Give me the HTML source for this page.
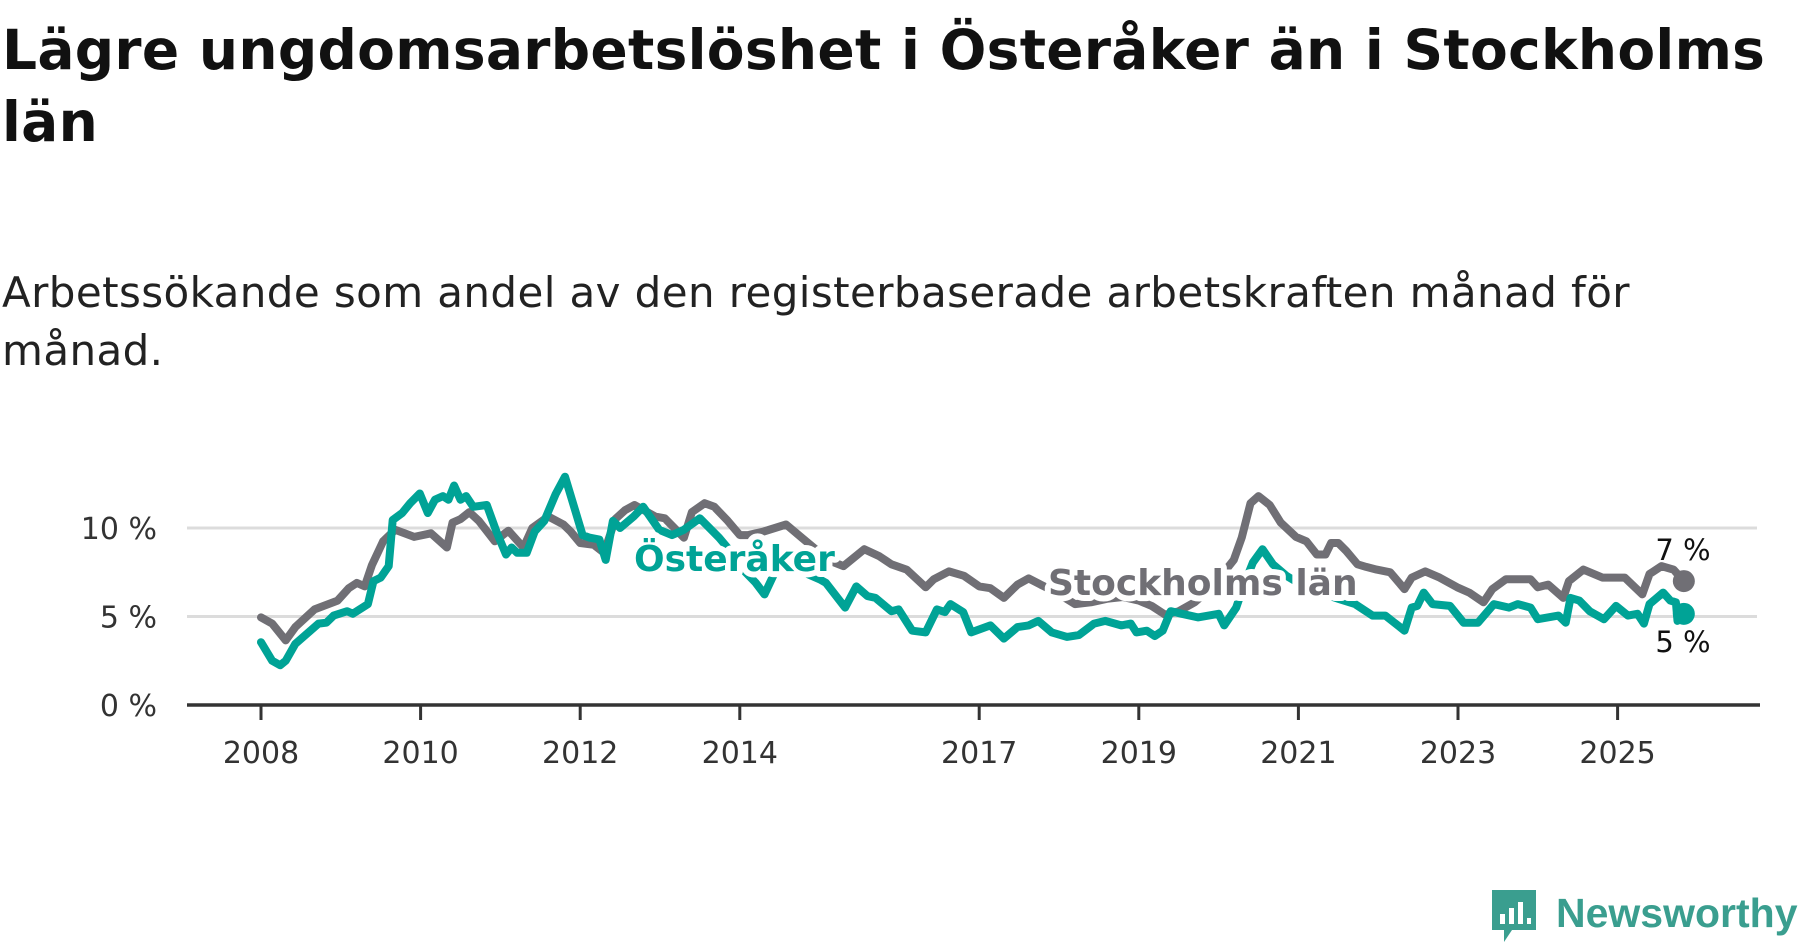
<!DOCTYPE html>
<html><head><meta charset="utf-8">
<style>
body{margin:0;background:#fff;width:1800px;height:948px;overflow:hidden;font-family:"DejaVu Sans",sans-serif;}
.t{position:absolute;left:2px;white-space:nowrap;color:#111}
</style></head><body>
<div class="t" style="top:14px;font-size:55px;font-weight:bold;line-height:72px;letter-spacing:0.3px">Lägre ungdomsarbetslöshet i Österåker än i Stockholms<br>län</div>
<div class="t" style="top:264px;font-size:42px;line-height:58px;color:#222;letter-spacing:0.4px">Arbetssökande som andel av den registerbaserade arbetskraften månad för<br>månad.</div>
<svg id="chart" width="1800" height="948" style="position:absolute;left:0;top:0" xmlns="http://www.w3.org/2000/svg"></svg>
<div style="position:absolute;left:1490px;top:888px;width:310px;height:60px;">
<svg width="50" height="58" style="position:absolute;left:0;top:0"><path d="M2 2h44v40H22l-8 12v-12H2z" fill="#3a9e8f"/><rect x="10" y="26" width="5" height="10" fill="#fff"/><rect x="19" y="20" width="5" height="16" fill="#fff"/><rect x="28" y="14" width="5" height="22" fill="#fff"/><rect x="37" y="30" width="4" height="6" fill="#fff"/></svg>
<span style="position:absolute;left:66px;top:2px;font-size:41px;font-weight:bold;color:#3a9e8f;font-family:'Liberation Sans',sans-serif">Newsworthy</span></div>
<script>
const yTicks=[0,5,10];
const yTickLabels=["0 %","5 %","10 %"];
const xTicks=[2008,2010,2012,2014,2017,2019,2021,2023,2025];
const stockYears=[2008.0,2008.14,2008.31,2008.43,2008.67,2008.96,2009.1,2009.2,2009.3,2009.39,2009.53,2009.68,2009.92,2010.13,2010.33,2010.4,2010.5,2010.61,2010.73,2010.93,2011.1,2011.29,2011.4,2011.6,2011.79,2011.88,2012.0,2012.17,2012.3,2012.44,2012.56,2012.68,2012.8,2012.94,2013.06,2013.3,2013.4,2013.56,2013.68,2013.85,2014.0,2014.1,2014.3,2014.58,2014.79,2014.95,2015.1,2015.3,2015.56,2015.75,2015.9,2016.09,2016.33,2016.43,2016.62,2016.81,2017.0,2017.14,2017.31,2017.48,2017.62,2017.77,2017.95,2018.2,2018.4,2018.6,2018.8,2019.0,2019.16,2019.33,2019.5,2019.7,2019.9,2020.05,2020.19,2020.29,2020.4,2020.5,2020.64,2020.78,2020.97,2021.1,2021.23,2021.34,2021.41,2021.5,2021.6,2021.74,2021.85,2021.98,2022.15,2022.33,2022.42,2022.59,2022.77,2022.99,2023.14,2023.32,2023.43,2023.6,2023.91,2024.0,2024.13,2024.32,2024.39,2024.57,2024.81,2025.09,2025.31,2025.4,2025.55,2025.7,2025.83];
const stockValues=[4.95,4.6,3.65,4.4,5.4,5.9,6.6,6.9,6.7,7.9,9.25,9.9,9.5,9.7,8.9,10.3,10.5,10.9,10.4,9.25,9.85,8.9,10.0,10.65,10.2,9.8,9.15,9.05,8.6,10.5,11.0,11.3,11.0,10.65,10.55,9.45,10.9,11.4,11.2,10.4,9.6,9.6,9.8,10.2,9.4,8.8,8.2,7.85,8.8,8.4,7.95,7.65,6.65,7.1,7.55,7.3,6.7,6.6,6.05,6.8,7.15,6.8,6.4,5.7,5.8,6.0,6.1,5.9,5.6,5.1,5.3,5.8,6.6,7.4,8.2,9.45,11.4,11.8,11.3,10.3,9.5,9.25,8.5,8.5,9.15,9.15,8.7,7.95,7.8,7.65,7.5,6.55,7.2,7.55,7.2,6.65,6.35,5.8,6.55,7.1,7.1,6.65,6.8,6.05,7.0,7.65,7.2,7.2,6.25,7.4,7.85,7.65,7.0];
const osterYears=[2008.0,2008.14,2008.24,2008.31,2008.43,2008.72,2008.82,2008.91,2009.08,2009.15,2009.34,2009.41,2009.5,2009.6,2009.65,2009.77,2009.87,2009.99,2010.09,2010.18,2010.28,2010.35,2010.42,2010.5,2010.57,2010.66,2010.83,2010.95,2011.07,2011.14,2011.21,2011.33,2011.43,2011.55,2011.69,2011.81,2011.93,2012.03,2012.12,2012.24,2012.32,2012.41,2012.5,2012.67,2012.79,2012.99,2013.15,2013.3,2013.5,2013.74,2013.9,2014.05,2014.2,2014.31,2014.45,2014.6,2014.8,2015.0,2015.08,2015.32,2015.46,2015.6,2015.7,2015.9,2015.99,2016.16,2016.33,2016.47,2016.57,2016.64,2016.8,2016.9,2017.14,2017.31,2017.48,2017.62,2017.74,2017.91,2018.1,2018.25,2018.44,2018.58,2018.78,2018.9,2018.97,2019.1,2019.2,2019.3,2019.4,2019.54,2019.74,2020.0,2020.07,2020.22,2020.32,2020.43,2020.55,2020.68,2020.85,2021.0,2021.15,2021.3,2021.5,2021.71,2021.93,2022.09,2022.33,2022.42,2022.49,2022.57,2022.68,2022.9,2023.07,2023.25,2023.45,2023.64,2023.75,2023.91,2024.0,2024.26,2024.35,2024.41,2024.52,2024.65,2024.83,2024.98,2025.13,2025.25,2025.33,2025.4,2025.57,2025.66,2025.73,2025.75,2025.83];
const osterValues=[3.55,2.5,2.25,2.5,3.45,4.6,4.65,5.05,5.3,5.15,5.7,7.0,7.2,7.85,10.45,10.85,11.4,11.95,10.85,11.6,11.8,11.6,12.4,11.6,11.8,11.2,11.3,9.8,8.5,8.9,8.6,8.6,9.8,10.4,11.9,12.9,11.1,9.6,9.45,9.35,8.2,10.4,10.0,10.65,11.2,9.9,9.6,9.9,10.55,9.45,8.6,7.6,6.9,6.25,7.6,8.0,7.5,7.1,6.9,5.5,6.7,6.15,6.05,5.3,5.4,4.2,4.1,5.4,5.25,5.7,5.25,4.1,4.5,3.75,4.4,4.5,4.75,4.1,3.85,3.95,4.6,4.75,4.5,4.6,4.1,4.2,3.9,4.2,5.3,5.15,4.95,5.15,4.5,5.5,6.8,8.05,8.8,7.95,7.3,6.9,6.6,6.3,6.0,5.7,5.05,5.05,4.2,5.5,5.6,6.35,5.7,5.6,4.65,4.65,5.7,5.5,5.7,5.5,4.85,5.05,4.65,6.05,5.9,5.3,4.85,5.6,5.05,5.15,4.6,5.7,6.35,5.9,5.8,4.75,5.15];

const NS="http://www.w3.org/2000/svg";
const svg=document.getElementById('chart');
const FONT='DejaVu Sans, sans-serif';
const x=yr=>261+(yr-2008)*79.8;
const y=v=>705-v*17.7;
function mk(tag,attrs,parent){const e=document.createElementNS(NS,tag);for(const k in attrs)e.setAttribute(k,attrs[k]);(parent||svg).appendChild(e);return e;}
yTicks.forEach((t,i)=>{
  if(t>0){const g=mk('line',{x1:187,x2:1757,y1:y(t),y2:y(t),stroke:'#dcdcdc','stroke-width':3});
  
  }
  const l=mk('text',{x:157,y:y(t)+11,'text-anchor':'end','font-size':30,fill:'#333','font-family':FONT});
  l.textContent=yTickLabels[i];
  
  
});
const ax=mk('line',{x1:187,x2:1760,y1:705,y2:705,stroke:'#333','stroke-width':3.5});


xTicks.forEach(t=>{
  const tk=mk('line',{x1:x(t),x2:x(t),y1:705,y2:720,stroke:'#333','stroke-width':3});
  
  
  const l=mk('text',{x:x(t),y:763,'text-anchor':'middle','font-size':30,fill:'#333','font-family':FONT});
  l.textContent=t;
  
  
});
function line(xs,vs,color,name){
  const d=xs.map((t,i)=>(i?'L':'M')+x(t).toFixed(1)+' '+y(vs[i]).toFixed(1)).join(' ');
  const p=mk('path',{d:d,fill:'none',stroke:color,'stroke-width':8,'stroke-linejoin':'round','stroke-linecap':'round'});
  
  
  const n=xs.length-1;
  const c=mk('circle',{cx:x(xs[n]),cy:y(vs[n]),r:11,fill:color});
  
  
}
line(stockYears,stockValues,'#706f75','stockholm-line');
line(osterYears,osterValues,'#00a396','osteraker-line');
function label(txt,xx,yy,color,name,size,weight,anchor){
  const t=mk('text',{x:xx,y:yy,'font-size':size,'font-weight':weight,fill:color,stroke:'#fff','stroke-width':weight==='bold'?12:0,'stroke-linejoin':'round','paint-order':'stroke','text-anchor':anchor||'start','font-family':FONT});
  t.textContent=txt;
  
  
}
label('Österåker',634,571,'#00a396','osteraker-label',36,'bold');
label('Stockholms län',1048,595,'#706f75','stockholm-label',36,'bold');
label('7 %',1683,560,'#111','stockholm-end-value',29,'normal','middle');
label('5 %',1683,652,'#111','osteraker-end-value',29,'normal','middle');
</script>
</body></html>
